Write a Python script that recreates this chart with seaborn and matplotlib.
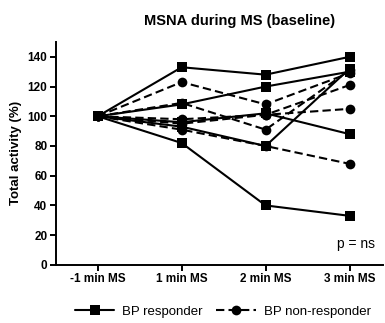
import pandas as pd
import seaborn as sns
import matplotlib.pyplot as plt

# Time points
timepoints = ["-1 min MS", "1 min MS", "2 min MS", "3 min MS"]

# BP responders (solid, squares)
resp_1 = [100, 133, 128, 140]
resp_2 = [100, 108, 120, 130]
resp_3 = [100, 96, 102, 88]
resp_4 = [100, 82, 40, 33]
resp_5 = [100, 93, 80, 132]

# BP non-responders (dashed, circles)
nonresp_1 = [100, 123, 108, 129]
nonresp_2 = [100, 109, 91, 131]
nonresp_3 = [100, 98, 101, 105]
nonresp_4 = [100, 91, 80, 68]
nonresp_5 = [100, 95, 101, 121]

responders = [resp_1, resp_2, resp_3, resp_4, resp_5]
non_responders = [nonresp_1, nonresp_2, nonresp_3, nonresp_4, nonresp_5]


def build_df():
    rows = []
    for i, vals in enumerate(responders):
        for t, v in enumerate(vals):
            rows.append({"subject": f"r{i}", "group": "BP responder", "time": t, "value": v})
    for i, vals in enumerate(non_responders):
        for t, v in enumerate(vals):
            rows.append({"subject": f"n{i}", "group": "BP non-responder", "time": t, "value": v})
    return pd.DataFrame(rows)


df = build_df()

sns.set_style("ticks")
plt.rcParams['font.family'] = ['Liberation Sans', 'DejaVu Sans']
plt.rcParams['text.color'] = 'black'
plt.rcParams['axes.labelcolor'] = 'black'

fig = plt.figure(figsize=(3.85, 3.23), dpi=100)
ax = fig.add_axes([0.145, 0.18, 0.85, 0.69])

sns.lineplot(
    data=df, x="time", y="value", style="group", units="subject",
    estimator=None, color="black", markers={"BP responder": "s", "BP non-responder": "o"},
    dashes={"BP responder": "", "BP non-responder": (4, 2)},
    markersize=7, markeredgewidth=0, linewidth=1.5, ax=ax, legend=True,
)

ax.set_xlim(-0.5, 3.4)
ax.set_ylim(0, 150)
ax.set_xticks(range(len(timepoints)))
ax.set_xticklabels(timepoints, fontweight="bold", fontsize=8.5)
ax.set_yticks(range(0, 141, 20))
ax.set_yticklabels([str(v) for v in range(0, 141, 20)], fontweight="bold", fontsize=8.5)
ax.set_xlabel("")
ax.set_ylabel("Total activity (%)", fontweight="bold", fontsize=9.5)
ax.tick_params(axis="both", direction="out", length=4, width=1.4, pad=2, colors="black")
for s in ["left", "bottom"]:
    ax.spines[s].set_linewidth(1.4)
    ax.spines[s].set_color("black")
sns.despine(ax=ax)

ax.set_title("MSNA during MS (baseline)", fontweight="bold", fontsize=10.5, pad=12, x=0.56)
ax.text(3.3, 14, "p = ns", ha="right", va="center", fontsize=10)

handles, labels = ax.get_legend_handles_labels()
ax.legend(handles, labels, loc="upper center", bbox_to_anchor=(0.51, -0.13), ncol=2,
          frameon=False, fontsize=9.5, handlelength=3, columnspacing=1.0, handletextpad=0.6)

plt.savefig("out.png", dpi=100)
plt.close()
